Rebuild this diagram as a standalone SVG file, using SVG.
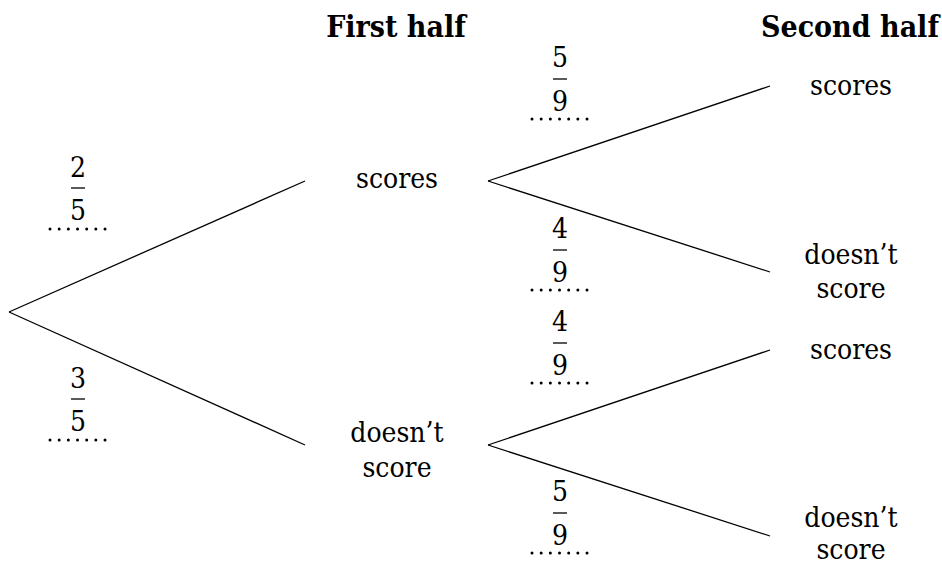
<svg xmlns="http://www.w3.org/2000/svg" width="942" height="565" viewBox="0 0 942 565">
<style>
.t{font-family:'DejaVu Serif Condensed','DejaVu Serif',serif;font-stretch:condensed;font-size:28px;fill:#000;text-anchor:middle}
.h{font-family:'DejaVu Serif Condensed','DejaVu Serif',serif;font-stretch:condensed;font-size:30px;font-weight:bold;fill:#000;text-anchor:middle}
.br{stroke:#000;stroke-width:1.3;fill:none}
.bar{stroke:#000;stroke-width:1.3}
.dots{stroke:#000;stroke-width:3;stroke-linecap:round;stroke-dasharray:0 9.17}
</style>
<rect width="942" height="565" fill="#fff"/>
<g id="headings">
<text class="h" x="396" y="37">First half</text>
<text class="h" x="850" y="37">Second half</text>
</g>
<g id="connectors">
<line class="br" x1="9" y1="312" x2="305" y2="181"/>
<line class="br" x1="9" y1="312" x2="305" y2="445"/>
<line class="br" x1="488" y1="181" x2="770" y2="86"/>
<line class="br" x1="488" y1="181" x2="770" y2="272"/>
<line class="br" x1="488" y1="445" x2="770" y2="350"/>
<line class="br" x1="488" y1="445" x2="770" y2="536"/>
</g>
<g id="n-first-scores"><text class="t" x="397" y="188">scores</text></g>
<g id="n-first-doesnt"><text class="t" x="397" y="442">doesn’t</text><text class="t" x="397" y="477">score</text></g>
<g id="n-ss"><text class="t" x="851" y="95">scores</text></g>
<g id="n-sd"><text class="t" x="851" y="264">doesn’t</text><text class="t" x="851" y="298">score</text></g>
<g id="n-ds"><text class="t" x="851" y="359">scores</text></g>
<g id="n-dd"><text class="t" x="851" y="527">doesn’t</text><text class="t" x="851" y="559">score</text></g>
<g id="p-25">
<text class="t" x="78" y="177">2</text><line class="bar" x1="71" y1="188" x2="85" y2="188"/><text class="t" x="78" y="220">5</text>
<line class="dots" x1="50" y1="229" x2="106" y2="229"/>
</g>
<g id="p-35">
<text class="t" x="78" y="388">3</text><line class="bar" x1="71" y1="399" x2="85" y2="399"/><text class="t" x="78" y="431">5</text>
<line class="dots" x1="50" y1="440" x2="106" y2="440"/>
</g>
<g id="p-59a">
<text class="t" x="560" y="67">5</text><line class="bar" x1="553" y1="79" x2="567" y2="79"/><text class="t" x="560" y="111">9</text>
<line class="dots" x1="532" y1="119" x2="588" y2="119"/>
</g>
<g id="p-49a">
<text class="t" x="560" y="238">4</text><line class="bar" x1="553" y1="250" x2="567" y2="250"/><text class="t" x="560" y="282">9</text>
<line class="dots" x1="532" y1="290" x2="588" y2="290"/>
</g>
<g id="p-49b">
<text class="t" x="560" y="331">4</text><line class="bar" x1="553" y1="343" x2="567" y2="343"/><text class="t" x="560" y="375">9</text>
<line class="dots" x1="532" y1="383" x2="588" y2="383"/>
</g>
<g id="p-59b">
<text class="t" x="560" y="501">5</text><line class="bar" x1="553" y1="513" x2="567" y2="513"/><text class="t" x="560" y="545">9</text>
<line class="dots" x1="532" y1="553" x2="588" y2="553"/>
</g>
</svg>
